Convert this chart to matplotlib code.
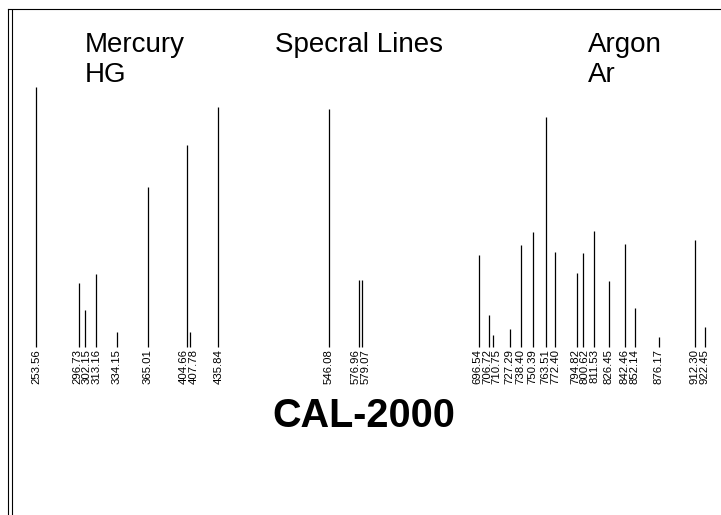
import matplotlib
matplotlib.use("Agg")
import matplotlib.pyplot as plt
from matplotlib.lines import Line2D
import numpy as np

plt.rcParams["font.family"] = ["Liberation Sans", "DejaVu Sans"]

# Mercury (Hg) emission lines: wavelength in nm, relative intensity
hg_wavelengths = [253.56, 296.73, 302.15, 313.16, 334.15, 365.01, 404.66,
                  407.78, 435.84, 546.08, 576.96, 579.07]
hg_intensity = [260, 64, 37, 73, 15, 160, 202, 15, 240, 238, 67, 67]

# Argon (Ar) emission lines
ar_wavelengths = [696.54, 706.72, 710.75, 727.29, 738.40, 750.39, 763.51,
                  772.40, 794.82, 800.62, 811.53, 826.45, 842.46, 852.14,
                  876.17, 912.30, 922.45]
ar_intensity = [92, 32, 12, 18, 102, 115, 230, 95, 74, 94, 116, 66, 103,
                39, 10, 107, 20]

W, H, DPI = 721, 515, 100
fig = plt.figure(figsize=(W / DPI, H / DPI), dpi=DPI)
ax = fig.add_axes([0, 0, 1, 1])
ax.set_xlim(217.5, 938.5)
ax.set_ylim(-168, 347)
ax.axis("off")

waves = np.array(hg_wavelengths + ar_wavelengths)
inten = np.array(hg_intensity + ar_intensity)

ax.vlines(waves, 0, inten, colors="black", linewidth=0.9)


def spread(xs, gap):
    """Shift label positions apart so neighbouring labels do not overlap."""
    clusters = []

    def place(c):
        n = len(c)
        centre = np.mean(c)
        return [centre + (i - (n - 1) / 2) * gap for i in range(n)]

    for x in sorted(xs):
        clusters.append([x])
        while len(clusters) > 1:
            a, b = clusters[-2], clusters[-1]
            if place(b)[0] - place(a)[-1] < gap:
                clusters[-2:] = [a + b]
            else:
                break
    out = []
    for c in clusters:
        out.extend(place(c))
    return out


order = np.argsort(waves)
label_x = spread(list(waves[order]), 9.6)
for w, lx in zip(waves[order], label_x):
    ax.text(lx, -2, f"{w:.2f}", rotation=90, ha="center", va="top",
            fontsize=8.2, color="black")


def fig_text(px, py, s, **kw):
    fig.text(px / W, 1 - py / H, s, va="baseline", **kw)


fig_text(85, 52, "Mercury", fontsize=20)
fig_text(85, 82, "HG", fontsize=20)
fig_text(275, 52, "Specral Lines", fontsize=20)
fig_text(588, 52, "Argon", fontsize=20)
fig_text(588, 82, "Ar", fontsize=20)
fig_text(363.5, 426.7, "CAL-2000", fontsize=28.5, fontweight="bold",
         ha="center")

# frame: single rule along the top, double rule down the left side
def frame_line(xs, ys):
    fig.add_artist(Line2D([x / W for x in xs], [1 - y / H for y in ys],
                          transform=fig.transFigure, color="black",
                          linewidth=0.8))


frame_line([8, W], [8.5, 8.5])
frame_line([8.3, 8.3], [8.5, H])
frame_line([11.7, 11.7], [10, H])

fig.savefig("out.png", dpi=DPI, facecolor="white")
